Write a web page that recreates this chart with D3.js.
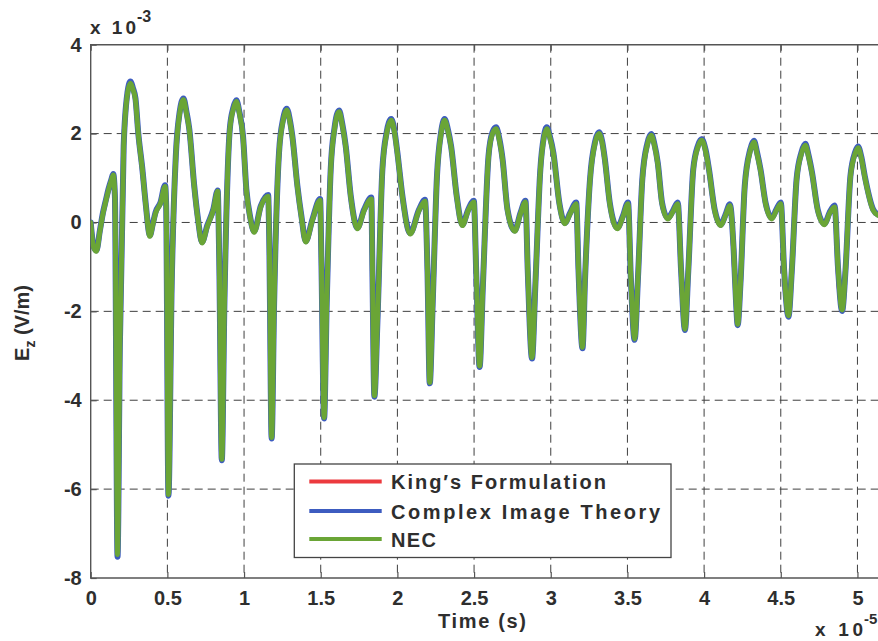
<!DOCTYPE html>
<html>
<head>
<meta charset="utf-8">
<script src="https://cdn.jsdelivr.net/npm/d3@7.9.0/dist/d3.min.js"></script>
<style>
  body { margin: 0; background: #fff; }
  svg { display: block; font-family: "Liberation Sans", Arial, sans-serif; font-weight: bold; }
</style>
</head>
<body>
<svg id="chart" width="878" height="641"></svg>
<script>
// time in units of 1e-5 s, field in units of 1e-3 V/m
const timeE5 = [
  0.000, 0.018, 0.037, 0.060, 0.080, 0.100, 0.116, 0.135, 0.147, 0.158,
  0.175, 0.190, 0.215, 0.240, 0.259, 0.275, 0.292, 0.310, 0.337, 0.358,
  0.386, 0.405, 0.423, 0.455, 0.485, 0.492, 0.507, 0.528, 0.555, 0.580,
  0.605, 0.625, 0.643, 0.675, 0.700, 0.726, 0.760, 0.800, 0.828, 0.838,
  0.855, 0.872, 0.907, 0.930, 0.950, 0.970, 0.993, 1.015, 1.040, 1.066,
  1.109, 1.157, 1.164, 1.180, 1.196, 1.228, 1.255, 1.278, 1.300, 1.315,
  1.348, 1.375, 1.402, 1.446, 1.496, 1.504, 1.522, 1.539, 1.565, 1.590,
  1.620, 1.640, 1.663, 1.696, 1.739, 1.783, 1.830, 1.837, 1.850, 1.870,
  1.902, 1.930, 1.960, 1.980, 2.000, 2.033, 2.083,
  2.141, 2.180, 2.196, 2.211, 2.230, 2.258, 2.285, 2.308, 2.330, 2.350,
  2.387, 2.423, 2.462, 2.498, 2.515, 2.536, 2.557, 2.594, 2.620, 2.643,
  2.665, 2.686, 2.718, 2.765, 2.803, 2.835, 2.850, 2.878, 2.900, 2.932,
  2.955, 2.974, 2.995, 3.017, 3.056, 3.092,
  3.127, 3.166, 3.181, 3.207, 3.224, 3.256, 3.290, 3.315, 3.335, 3.353,
  3.385, 3.435, 3.470, 3.504, 3.522, 3.547, 3.569, 3.597, 3.630, 3.655,
  3.675, 3.698, 3.726, 3.763, 3.795, 3.828, 3.850, 3.875, 3.897, 3.929,
  3.960, 3.985, 4.010, 4.032, 4.069, 4.108, 4.140, 4.168,
  4.193, 4.208, 4.219, 4.237, 4.265, 4.300, 4.325, 4.345, 4.368, 4.401,
  4.441, 4.471, 4.500, 4.522, 4.550, 4.572, 4.603, 4.635, 4.660, 4.680,
  4.704, 4.741, 4.785, 4.818, 4.851, 4.873, 4.900, 4.922, 4.954, 4.985,
  5.004, 5.025, 5.048, 5.103, 5.134
];

const kingValues = [
  0.00, -0.50, -0.62, -0.18, 0.22, 0.52, 0.75, 0.97, 1.05, -0.60,
  -7.40, -2.60, 1.72, 2.92, 3.14, 3.00, 2.76, 2.00, 1.18, 0.43,
  -0.28, -0.03, 0.23, 0.45, 0.80, -0.90, -6.05, -1.40, 1.50, 2.47,
  2.77, 2.45, 2.08, 0.81, 0.05, -0.43, -0.07, 0.30, 0.68, -1.60,
  -5.25, -1.75, 2.10, 2.56, 2.73, 2.45, 1.93, 0.73, 0.12, -0.20,
  0.37, 0.58, -1.20, -4.78, -1.78, 1.57, 2.31, 2.54, 2.25, 1.92,
  0.80, 0.12, -0.41, 0.07, 0.49, -1.50, -4.32, -1.78, 1.19, 2.11,
  2.50, 2.20, 1.70, 0.57, -0.12, 0.29, 0.52, -1.80, -3.85, -2.10,
  1.19, 2.01, 2.31, 2.05, 1.55, 0.57, -0.24,
  0.29, 0.47, -1.70, -3.55, -1.78, 1.04, 2.01, 2.31, 2.05, 1.70,
  0.57, -0.05, 0.29, 0.45, -1.80, -3.18, -1.40, 1.49, 2.01, 2.13,
  1.85, 1.40, 0.27, -0.18, 0.22, 0.45, -1.70, -2.98, -1.33, 1.19,
  1.91, 2.13, 1.90, 1.55, 0.42, -0.01,
  0.22, 0.41, -1.60, -2.76, -1.18, 0.97, 1.81, 2.02, 1.80, 1.40,
  0.42, -0.12, 0.14, 0.41, -1.70, -2.57, -1.18, 0.97, 1.76, 1.98,
  1.75, 1.32, 0.42, 0.10, 0.25, 0.41, -1.50, -2.35, -1.03, 1.19,
  1.73, 1.90, 1.62, 1.17, 0.27, -0.05, 0.18, 0.37,
  -1.10, -1.90, -2.24, -1.33, 0.82, 1.62, 1.84, 1.55, 1.17, 0.42,
  0.10, 0.29, 0.41, -1.50, -2.05, -1.03, 0.97, 1.57, 1.78, 1.51,
  1.10, 0.27, -0.03, 0.22, 0.34, -1.40, -1.92, -1.03, 1.04, 1.56,
  1.70, 1.45, 1.02, 0.27, 0.16
];

const citValues = [
  0.00, -0.53, -0.63, -0.18, 0.22, 0.52, 0.75, 0.97, 1.09, 0.58,
  -7.52, -2.80, 1.72, 2.93, 3.17, 3.03, 2.79, 2.02, 1.20, 0.45,
  -0.29, -0.03, 0.23, 0.45, 0.84, 0.40, -6.15, -1.44, 1.50, 2.48,
  2.79, 2.48, 2.10, 0.83, 0.07, -0.44, -0.07, 0.30, 0.72, -0.80,
  -5.35, -1.80, 2.10, 2.58, 2.75, 2.48, 1.95, 0.75, 0.12, -0.20,
  0.37, 0.62, -0.33, -4.86, -1.83, 1.57, 2.33, 2.56, 2.28, 1.94,
  0.82, 0.12, -0.42, 0.07, 0.53, -0.78, -4.41, -1.83, 1.19, 2.13,
  2.52, 2.23, 1.72, 0.59, -0.12, 0.29, 0.56, -1.08, -3.92, -2.20,
  1.19, 2.03, 2.33, 2.08, 1.57, 0.59, -0.24,
  0.29, 0.51, -1.08, -3.62, -1.83, 1.04, 2.03, 2.33, 2.08, 1.72,
  0.59, -0.05, 0.29, 0.49, -1.23, -3.25, -1.46, 1.49, 2.03, 2.14,
  1.88, 1.42, 0.29, -0.18, 0.22, 0.49, -1.08, -3.06, -1.38, 1.19,
  1.93, 2.14, 1.93, 1.57, 0.44, -0.01,
  0.22, 0.45, -1.08, -2.83, -1.23, 0.97, 1.83, 2.03, 1.83, 1.42,
  0.44, -0.12, 0.14, 0.45, -1.23, -2.64, -1.23, 0.97, 1.78, 1.99,
  1.78, 1.34, 0.44, 0.10, 0.25, 0.45, -1.08, -2.42, -1.08, 1.19,
  1.73, 1.87, 1.63, 1.19, 0.29, -0.05, 0.18, 0.41,
  -0.63, -1.76, -2.31, -1.38, 0.82, 1.63, 1.84, 1.58, 1.19, 0.44,
  0.10, 0.29, 0.45, -1.08, -2.12, -1.08, 0.97, 1.58, 1.77, 1.53,
  1.12, 0.29, -0.03, 0.22, 0.38, -1.00, -1.99, -1.08, 1.04, 1.58,
  1.71, 1.48, 1.04, 0.29, 0.18
];

const necValues = [
  0.00, -0.55, -0.65, -0.20, 0.20, 0.50, 0.73, 0.95, 1.07, 0.58,
  -7.47, -2.80, 1.70, 2.90, 3.13, 3.00, 2.76, 2.00, 1.18, 0.43,
  -0.31, -0.05, 0.21, 0.43, 0.81, 0.40, -6.12, -1.44, 1.48, 2.45,
  2.76, 2.45, 2.08, 0.81, 0.05, -0.46, -0.09, 0.28, 0.70, -0.80,
  -5.33, -1.80, 2.08, 2.55, 2.72, 2.45, 1.93, 0.73, 0.10, -0.22,
  0.35, 0.59, -0.33, -4.84, -1.83, 1.55, 2.30, 2.53, 2.25, 1.92,
  0.80, 0.10, -0.44, 0.05, 0.50, -0.78, -4.39, -1.83, 1.17, 2.10,
  2.49, 2.20, 1.70, 0.57, -0.14, 0.27, 0.53, -1.08, -3.90, -2.20,
  1.17, 2.00, 2.30, 2.05, 1.55, 0.57, -0.26,
  0.27, 0.48, -1.08, -3.60, -1.83, 1.02, 2.00, 2.30, 2.05, 1.70,
  0.57, -0.07, 0.27, 0.46, -1.23, -3.23, -1.46, 1.47, 2.00, 2.11,
  1.85, 1.40, 0.27, -0.20, 0.20, 0.46, -1.08, -3.04, -1.38, 1.17,
  1.90, 2.11, 1.90, 1.55, 0.42, -0.03,
  0.20, 0.42, -1.08, -2.81, -1.23, 0.95, 1.80, 2.00, 1.80, 1.40,
  0.42, -0.14, 0.12, 0.42, -1.23, -2.62, -1.23, 0.95, 1.75, 1.96,
  1.75, 1.32, 0.42, 0.08, 0.23, 0.42, -1.08, -2.40, -1.08, 1.17,
  1.70, 1.85, 1.60, 1.17, 0.27, -0.07, 0.16, 0.38,
  -0.63, -1.76, -2.29, -1.38, 0.80, 1.60, 1.81, 1.55, 1.17, 0.42,
  0.08, 0.27, 0.42, -1.08, -2.10, -1.08, 0.95, 1.55, 1.74, 1.50,
  1.10, 0.27, -0.05, 0.20, 0.35, -1.00, -1.97, -1.08, 1.02, 1.55,
  1.68, 1.45, 1.02, 0.27, 0.16
];

const xTicks = [0, 0.5, 1, 1.5, 2, 2.5, 3, 3.5, 4, 4.5, 5];
const yTicks = [-8, -6, -4, -2, 0, 2, 4];
const seriesNames = ["King\u2032s Formulation", "Complex Image Theory", "NEC"];
const seriesColors = ["#ec3a3e", "#3d5cc0", "#6aa536"];
const seriesWidths = [3, 6, 5];

const plotLeft = 90.7, plotRight = 878, plotTop = 44.7, plotBottom = 578;
const textColor = "#2e2e2e";
const tickFmt = d => String(d); // plain hyphen minus, like the original

const svg = d3.select("#chart");
const x = d3.scaleLinear().domain([0, 5.134]).range([plotLeft, plotRight]);
const y = d3.scaleLinear().domain([-8, 4]).range([plotBottom, plotTop]);

// dashed grid
const grid = svg.append("g");
grid.selectAll(".vg").data(xTicks.filter(d => d > 0)).join("line")
  .attr("class", "vg")
  .attr("x1", d => x(d)).attr("x2", d => x(d))
  .attr("y1", plotTop).attr("y2", plotBottom);
grid.selectAll(".hg").data(yTicks.filter(d => d > -8 && d < 4)).join("line")
  .attr("class", "hg")
  .attr("x1", plotLeft).attr("x2", plotRight)
  .attr("y1", d => y(d)).attr("y2", d => y(d));
grid.selectAll("line")
  .attr("stroke", "#3f3f3f").attr("stroke-width", 1)
  .attr("stroke-dasharray", "8,5");

// axes with inward ticks
const xAxis = svg.append("g").attr("transform", `translate(0,${plotBottom})`)
  .call(d3.axisBottom(x).tickValues(xTicks).tickSize(-6).tickFormat(tickFmt));
const xTop = svg.append("g").attr("transform", `translate(0,${plotTop})`)
  .call(d3.axisTop(x).tickValues(xTicks).tickSize(-6).tickFormat(""));
const yAxis = svg.append("g").attr("transform", `translate(${plotLeft},0)`)
  .call(d3.axisLeft(y).tickValues(yTicks).tickSize(-6).tickFormat(tickFmt));

[xAxis, xTop, yAxis].forEach(g => {
  g.select(".domain").remove();
  g.selectAll(".tick line").attr("stroke", "#555").attr("stroke-width", 1.2);
  g.selectAll("text")
    .attr("fill", textColor)
    .attr("font-size", 20)
    .attr("font-weight", "bold")
    .attr("font-family", "'Liberation Sans', Arial, sans-serif");
});
xAxis.selectAll("text").attr("y", 10).attr("dy", "0.85em");
yAxis.selectAll("text").attr("x", -9);

// box (right side runs off the figure)
svg.append("path")
  .attr("d", `M${plotRight},${plotTop}H${plotLeft}V${plotBottom}H${plotRight}`)
  .attr("fill", "none").attr("stroke", "#555").attr("stroke-width", 1.4);

// series
const line = d3.line()
  .x((d, i) => x(timeE5[i]))
  .y(d => y(d))
  .curve(d3.curveMonotoneX);

svg.append("clipPath").attr("id", "plot-clip")
  .append("rect").attr("x", plotLeft).attr("y", plotTop - 10)
  .attr("width", plotRight - plotLeft).attr("height", plotBottom - plotTop + 10);

[kingValues, citValues, necValues].forEach((vals, k) => {
  svg.append("path")
    .datum(vals)
    .attr("d", line)
    .attr("clip-path", "url(#plot-clip)")
    .attr("fill", "none")
    .attr("stroke", seriesColors[k])
    .attr("stroke-width", seriesWidths[k])
    .attr("stroke-linejoin", "round")
    .attr("stroke-linecap", "round");
});

// legend
const legend = svg.append("g");
legend.append("rect")
  .attr("x", 294.3).attr("y", 464).attr("width", 376.7).attr("height", 93.5)
  .attr("fill", "#fff").attr("stroke", "#444").attr("stroke-width", 1.3);
const legendRows = [481.5, 511, 539];
const legendTextLen = [215, 269, 45];
seriesNames.forEach((name, k) => {
  legend.append("line")
    .attr("x1", 309.3).attr("x2", 381.7)
    .attr("y1", legendRows[k]).attr("y2", legendRows[k])
    .attr("stroke", seriesColors[k]).attr("stroke-width", 4);
  legend.append("text")
    .attr("x", 391).attr("y", legendRows[k] + 7.5)
    .attr("font-size", 20).attr("fill", textColor)
    .attr("textLength", legendTextLen[k]).attr("lengthAdjust", "spacing")
    .text(name);
});

// exponent labels
const yExp = svg.append("g").attr("fill", textColor);
yExp.append("text").attr("x", 90).attr("y", 34).attr("font-size", 19)
  .attr("textLength", 46).attr("lengthAdjust", "spacing").text("x 10");
yExp.append("text").attr("x", 137).attr("y", 22).attr("font-size", 16).text("-3");

const xExp = svg.append("g").attr("fill", textColor);
xExp.append("text").attr("x", 815).attr("y", 636).attr("font-size", 19)
  .attr("textLength", 48).attr("lengthAdjust", "spacing").text("x 10");
xExp.append("text").attr("x", 864).attr("y", 624).attr("font-size", 15).text("-5");

// axis titles
svg.append("text").attr("x", 438).attr("y", 628)
  .attr("font-size", 20).attr("fill", textColor)
  .attr("textLength", 88).attr("lengthAdjust", "spacing").text("Time (s)");

const yTitle = svg.append("text")
  .attr("transform", "translate(29,323) rotate(-90)")
  .attr("text-anchor", "middle")
  .attr("font-size", 20).attr("fill", textColor);
yTitle.append("tspan").text("E");
yTitle.append("tspan").attr("font-size", 14).attr("dy", 6).text("z");
yTitle.append("tspan").attr("dy", -6).text(" (V/m)");
</script>
</body>
</html>
